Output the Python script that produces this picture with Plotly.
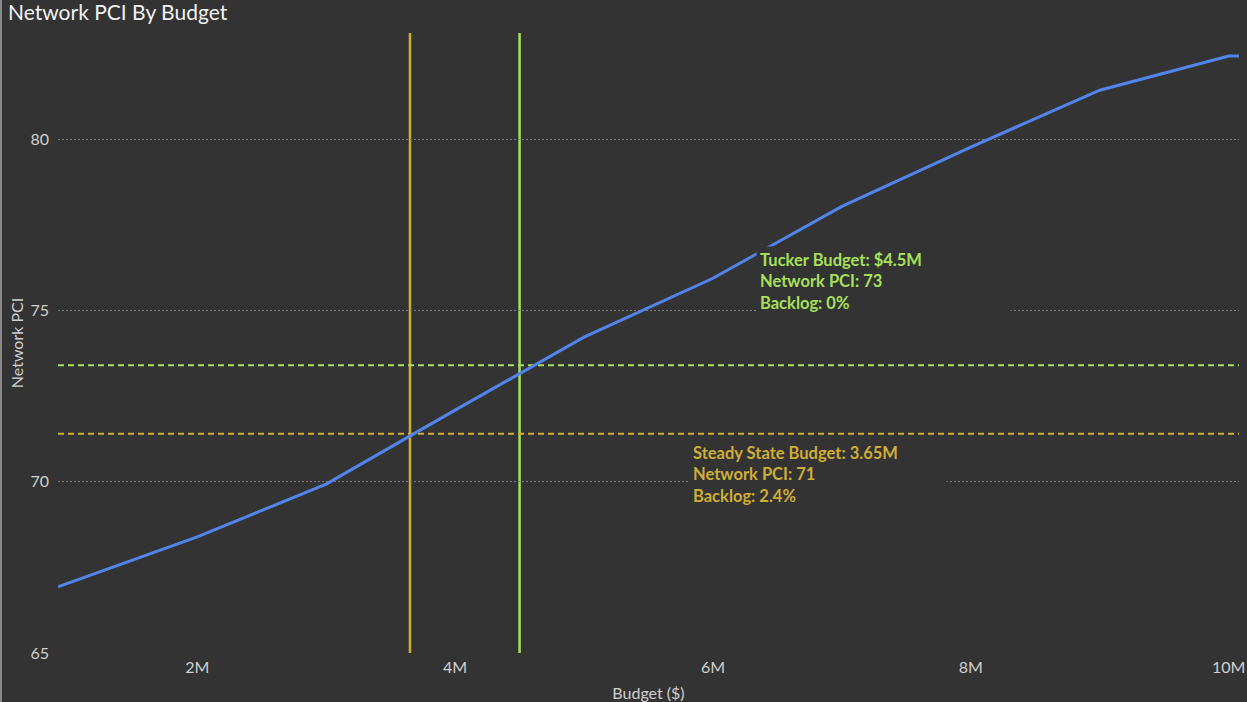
import plotly.graph_objects as go

# Network PCI by annual budget (budget in $M)
budget_m = [0.92, 1, 2, 3, 4, 5, 6, 7, 8, 9, 10, 10.08]
network_pci = [66.93, 67.04, 68.39, 69.93, 72.09, 74.22, 75.94, 78.04, 79.77, 81.43, 82.43, 82.43]

x_ticks = [2, 4, 6, 8, 10]
x_tick_text = ["2M", "4M", "6M", "8M", "10M"]
y_ticks = [65, 70, 75, 80]

# Reference scenarios
tucker_budget = 4.5
tucker_pci = 73.4
tucker_backlog = 0
steady_budget = 3.65
steady_pci = 71.4
steady_backlog = 2.4

BG = "#333333"
BLUE = "#5285ec"
GREEN = "#a6e05a"
GOLD = "#cfae35"
TICK = "#d0d0d0"
FONT = "Lato"

fig = go.Figure()
fig.add_trace(go.Scatter(
    x=budget_m, y=network_pci, mode="lines",
    line=dict(color=BLUE, width=3), hoverinfo="skip", showlegend=False,
))

# Scenario guides: vertical budget lines and horizontal PCI lines
for b, col in [(steady_budget, GOLD), (tucker_budget, GREEN)]:
    fig.add_shape(type="line", xref="x", yref="paper", x0=b, x1=b, y0=0, y1=1,
                  line=dict(color=col, width=2.5), layer="below")
for p, col in [(steady_pci, GOLD), (tucker_pci, GREEN)]:
    fig.add_shape(type="line", xref="paper", yref="y", x0=0, x1=1, y0=p, y1=p,
                  line=dict(color=col, width=2, dash="6px,4px"), layer="below")

fig.add_annotation(
    x=6.335, y=76.87, xref="x", yref="y", xanchor="left", yanchor="top",
    text=(f"Tucker Budget: ${tucker_budget}M<br>Network PCI: {tucker_pci:.0f}"
          f"<br>Backlog: {tucker_backlog}%"),
    showarrow=False, align="left", width=247, bgcolor=BG, borderpad=3,
    font=dict(family=FONT, size=16.5, color=GREEN, weight="bold"),
)
fig.add_annotation(
    x=5.815, y=71.24, xref="x", yref="y", xanchor="left", yanchor="top",
    text=(f"Steady State Budget: {steady_budget}M<br>Network PCI: {steady_pci:.0f}"
          f"<br>Backlog: {steady_backlog}%"),
    showarrow=False, align="left", width=250, bgcolor=BG, borderpad=3,
    font=dict(family=FONT, size=16.5, color=GOLD, weight="bold"),
)

# thin light frame on the left edge
fig.add_shape(type="line", xref="paper", yref="paper",
              x0=-57 / 1181, x1=-57 / 1181, y0=-49 / 620, y1=33 / 620 + 1,
              line=dict(color="#8a8a8a", width=2))

fig.update_layout(
    width=1247, height=702,
    paper_bgcolor=BG, plot_bgcolor=BG,
    margin=dict(l=58, r=8, t=33, b=49),
    font=dict(family=FONT, color=TICK, size=16),
    title=dict(text="Network PCI By Budget", x=8 / 1247, xanchor="left",
               y=1 - 13 / 702, yanchor="middle", xref="container", yref="container",
               font=dict(family=FONT, size=21, color="#f2f2f2")),
    showlegend=False,
)
fig.update_xaxes(
    range=[0.92, 10.08], tickvals=x_ticks, ticktext=x_tick_text,
    showgrid=False, zeroline=False, showline=False, ticks="",
    tickfont=dict(size=16, color=TICK), ticklabelstandoff=3,
    title=dict(text="Budget ($)", font=dict(size=16, color=TICK), standoff=12),
    automargin=False,
)
fig.update_yaxes(
    range=[65, 83.1], tickvals=y_ticks,
    showgrid=True, gridcolor="#7a7a7a", gridwidth=1, griddash="1.5px,2.5px",
    zeroline=False, showline=False, ticks="",
    tickfont=dict(size=16, color=TICK), ticklabelstandoff=8,
    title=dict(text="Network PCI", font=dict(size=16, color=TICK), standoff=2),
    automargin=False,
)

fig.write_html("out.html")
